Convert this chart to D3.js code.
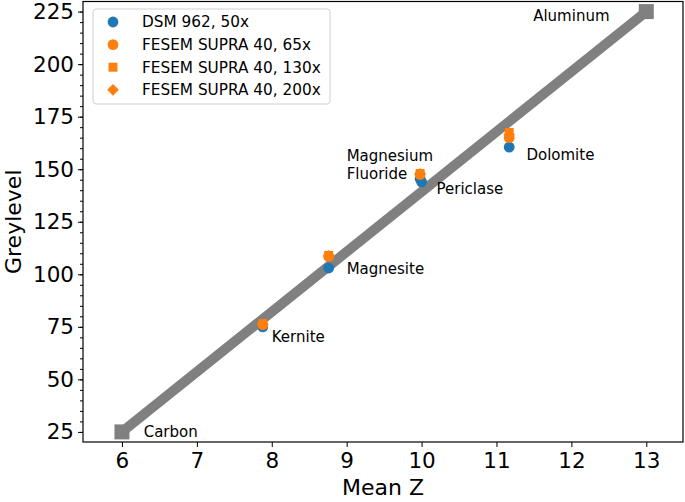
<!DOCTYPE html>
<html>
<head>
<meta charset="utf-8">
<script src="https://cdn.jsdelivr.net/npm/d3@7"></script>
<style>
  body { margin: 0; background: #fff; }
  svg { font-family: "DejaVu Sans", sans-serif; }
</style>
</head>
<body>
<svg width="685" height="502"></svg>
<script>
// calibration line end points (Carbon, Aluminum)
var lineZ = [6, 13];
var lineGrey = [25, 225];

// measured minerals
var minerals = ["Kernite", "Magnesite", "Magnesium Fluoride", "Periclase", "Dolomite"];
var meanZ = [7.88, 8.76, 9.98, 10.0, 11.17];
var dsm50 = [75.0, 103.0, 145.5, 144.0, 160.5];
var fesem65 = [76.0, 108.5, 147.5, null, 165.0];
var fesem130 = [76.5, 109.0, 148.0, null, 167.5];
var fesem200 = [76.2, 108.8, 147.8, null, 166.5];

var xTicks = [6, 7, 8, 9, 10, 11, 12, 13];
var yTicks = [25, 50, 75, 100, 125, 150, 175, 200, 225];

// annotation text (anchor given in data units)
var labels = [
  {t: ["Carbon"], x: 6.29, y: 25.3},
  {t: ["Aluminum"], x: 11.49, y: 223.2},
  {t: ["Magnesium", "Fluoride"], x: 9.0, y: 156.2},
  {t: ["Periclase"], x: 10.2, y: 140.5},
  {t: ["Dolomite"], x: 11.4, y: 157.1},
  {t: ["Magnesite"], x: 9.0, y: 102.4},
  {t: ["Kernite"], x: 8.0, y: 70.1}
];

var blue = "#1f77b4", orange = "#ff7f0e";

var svg = d3.select("svg");
var mL = 83, mR = 683, mT = 1.5, mB = 442;

var x = d3.scaleLinear().domain([5.48, 13.49]).range([mL, mR]);
var y = d3.scaleLinear().domain([20.2, 229.8]).range([mB, mT]);

// axes
var xAxis = svg.append("g")
    .attr("transform", "translate(0," + mB + ")")
    .call(d3.axisBottom(x).tickValues(xTicks).tickSize(5).tickPadding(4).tickFormat(d3.format("d")));
var yMinor = svg.append("g")
    .attr("transform", "translate(" + mL + ",0)")
    .call(d3.axisLeft(y).tickValues(d3.range(25, 230, 5)).tickSize(3).tickFormat(""));
var yAxis = svg.append("g")
    .attr("transform", "translate(" + mL + ",0)")
    .call(d3.axisLeft(y).tickValues(yTicks).tickSize(5).tickPadding(4));

[xAxis, yAxis, yMinor].forEach(function (g) {
  g.select(".domain").remove();
  g.selectAll("line").attr("stroke", "#000").attr("stroke-width", 1);
  g.selectAll("text").attr("font-size", "21.5px").attr("fill", "#000")
    .attr("font-family", "DejaVu Sans, sans-serif");
});
xAxis.selectAll("text").attr("dy", "0.78em");

// frame
svg.append("rect")
    .attr("x", mL).attr("y", mT)
    .attr("width", mR - mL).attr("height", mB - mT)
    .attr("fill", "none").attr("stroke", "#000").attr("stroke-width", 1.2);

// calibration line
var plot = svg.append("g");
plot.append("line")
    .attr("x1", x(lineZ[0])).attr("y1", y(lineGrey[0]))
    .attr("x2", x(lineZ[1])).attr("y2", y(lineGrey[1]))
    .attr("stroke", "#808080").attr("stroke-width", 10);
plot.selectAll("rect.end")
    .data(lineZ)
    .enter().append("rect")
    .attr("class", "end")
    .attr("x", function (d) { return x(d) - 7.5; })
    .attr("y", function (d, i) { return y(lineGrey[i]) - 7.5; })
    .attr("width", 15).attr("height", 15)
    .attr("fill", "#808080");

function pts(vals) {
  return meanZ.map(function (z, i) { return {x: z, y: vals[i]}; })
    .filter(function (d) { return d.y != null; });
}

// DSM 962 circles
plot.selectAll("circle.dsm")
    .data(pts(dsm50))
    .enter().append("circle")
    .attr("cx", function (d) { return x(d.x); })
    .attr("cy", function (d) { return y(d.y); })
    .attr("r", 5.4).attr("fill", blue);

var sq = d3.symbol().type(d3.symbolSquare).size(80);
var dia = d3.symbol().type(d3.symbolSquare).size(68);

plot.selectAll("path.f130")
    .data(pts(fesem130))
    .enter().append("path")
    .attr("d", sq)
    .attr("transform", function (d) { return "translate(" + x(d.x) + "," + y(d.y) + ")"; })
    .attr("fill", orange);
plot.selectAll("path.f200")
    .data(pts(fesem200))
    .enter().append("path")
    .attr("d", dia)
    .attr("transform", function (d) { return "translate(" + x(d.x) + "," + y(d.y) + ") rotate(45)"; })
    .attr("fill", orange);
plot.selectAll("circle.f65")
    .data(pts(fesem65))
    .enter().append("circle")
    .attr("cx", function (d) { return x(d.x); })
    .attr("cy", function (d) { return y(d.y); })
    .attr("r", 5.4).attr("fill", orange);

// annotations
labels.forEach(function (l) {
  var t = svg.append("text")
      .attr("x", x(l.x)).attr("y", y(l.y))
      .attr("font-size", "15px").attr("fill", "#000");
  l.t.forEach(function (s, i) {
    t.append("tspan").attr("x", x(l.x))
      .attr("dy", i == 0 ? "0.35em" : "1.2em").text(s);
  });
});

// legend
var legNames = ["DSM 962, 50x", "FESEM SUPRA 40, 65x", "FESEM SUPRA 40, 130x", "FESEM SUPRA 40, 200x"];
var leg = svg.append("g");
leg.append("rect")
    .attr("x", 93).attr("y", 9).attr("width", 237).attr("height", 95)
    .attr("rx", 3).attr("fill", "#fff").attr("fill-opacity", 0.8)
    .attr("stroke", "#d0d0d0");
var rows = leg.selectAll("g.row")
    .data(legNames)
    .enter().append("g")
    .attr("transform", function (d, i) { return "translate(113," + (22 + i * 22.6) + ")"; });
rows.each(function (d, i) {
  var g = d3.select(this);
  if (i < 2) g.append("circle").attr("r", 5.4).attr("fill", i == 0 ? blue : orange);
  else if (i == 2) g.append("path").attr("d", sq).attr("fill", orange);
  else g.append("path").attr("d", dia).attr("transform", "rotate(45)").attr("fill", orange);
});
rows.append("text")
    .attr("x", 29).attr("dy", "0.35em")
    .attr("font-size", "15.3px").text(function (d) { return d; });

// axis labels
svg.append("text")
    .attr("x", (mL + mR) / 2).attr("y", 495)
    .attr("text-anchor", "middle").attr("font-size", "22px")
    .text("Mean Z");
svg.append("text")
    .attr("transform", "translate(21," + ((mT + mB) / 2) + ") rotate(-90)")
    .attr("text-anchor", "middle").attr("font-size", "22px")
    .text("Greylevel");
</script>
</body>
</html>
